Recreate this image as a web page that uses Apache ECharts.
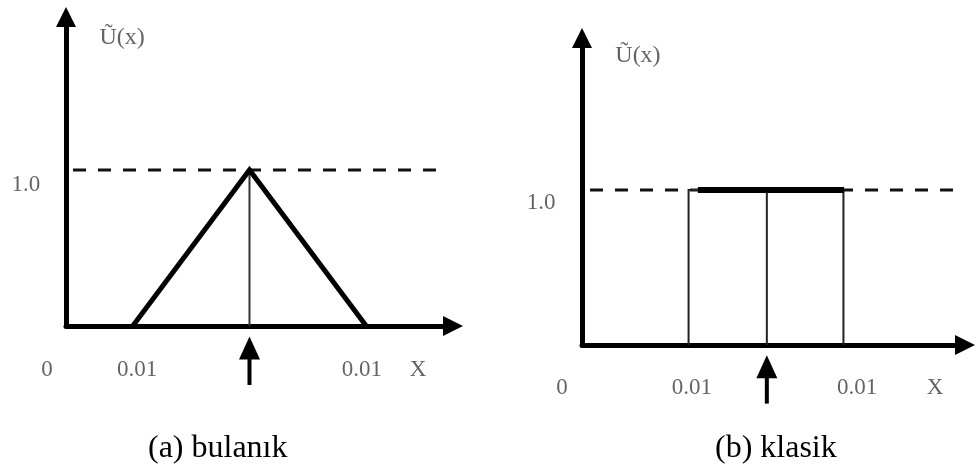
<!DOCTYPE html>
<html>
<head>
<meta charset="utf-8">
<script src="https://cdn.jsdelivr.net/npm/echarts@6/dist/echarts.min.js"></script>
<style>
html,body{margin:0;padding:0;background:#fff;}
#chart{width:977px;height:469px;}
</style>
</head>
<body>
<div id="chart"></div>
<script>
// ---------------- data ----------------
// (a) bulanık : triangular membership function
const fuzzyX = [2.0, 5.5, 9.0];
const fuzzyU = [0, 1, 0];
// (b) klasik : crisp interval (left edge, centre, right edge)
const crispX = [3.2, 5.55, 7.85];
const crispTop = [3.48, 7.87];          // thick top segment of the interval
const levelU = 1.0;                      // membership level 1.0
// dashed reference line at U = 1.0 (x range)
const dashA = [0.21, 11.36];
const dashB = [0.24, 11.44];
// labels under the x axis and on the y axis
const xTickText = ['0', '0.01', '0.01', 'X'];
const xTickPosA = [-0.57, 2.13, 8.87, 10.55];
const xTickPosB = [-0.6, 3.3, 8.26, 10.6];
const yTickText = ['1.0'];
const axisTitle = 'Ũ(x)';
const captions = ['(a) bulanık', '(b) klasik'];
// arrow under the axis pointing at the centre value (tail, head in U units)
const arrowU = [-0.378, -0.141];

// ---------------- layout / style ----------------
const FONT = '"Liberation Serif", "Times New Roman", serif';
const LAB = {
  a: {tickY: -0.282, yLabX: -1.2, yLabY: 0.904, titleX: 1.68, titleY: 1.846},
  b: {tickY: -0.277, yLabX: -1.23, yLabY: 0.916, titleX: 1.68, titleY: 1.865}
};

function axisLine(isY) {
  return {
    show: true, onZero: false,
    symbol: ['none', 'triangle'],
    symbolSize: [20, 20],
    symbolOffset: [0, isY ? -3 : 0],
    lineStyle: {color: '#000', width: 5}
  };
}
function xAx(i, max) {
  return {type: 'value', gridIndex: i, min: 0, max: max,
    axisLine: axisLine(false), axisTick: {show: false}, axisLabel: {show: false}, splitLine: {show: false}};
}
function yAx(i) {
  return {type: 'value', gridIndex: i, min: 0, max: 2,
    axisLine: axisLine(true), axisTick: {show: false}, axisLabel: {show: false}, splitLine: {show: false}};
}
function seg(i, pts, width, color, extra) {
  return Object.assign({
    type: 'line', xAxisIndex: i, yAxisIndex: i, data: pts, symbol: 'none',
    silent: true, animation: false, clip: false,
    lineStyle: {width: width, color: color, cap: 'butt', join: 'miter'}
  }, extra || {});
}
function arrow(i, x) {
  return {
    type: 'line', xAxisIndex: i, yAxisIndex: i, silent: true, animation: false, clip: false,
    showSymbol: true,
    data: [
      {value: [x, arrowU[0]], symbol: 'none'},
      {value: [x, arrowU[1]], symbol: 'triangle', symbolSize: [21, 23]}
    ],
    itemStyle: {color: '#000', borderWidth: 0},
    lineStyle: {width: 4, color: '#000'}
  };
}
function labels(i, tickPos, L) {
  const data = tickPos.map((x, k) => ({value: [x, L.tickY], name: xTickText[k]}));
  data.push({value: [L.yLabX, L.yLabY], name: yTickText[0]});
  data.push({value: [L.titleX, L.titleY], name: axisTitle, label: {fontSize: 24}});
  return {
    type: 'scatter', xAxisIndex: i, yAxisIndex: i, silent: true, animation: false, clip: false,
    symbolSize: 1, itemStyle: {color: 'rgba(0,0,0,0)'},
    data: data,
    label: {show: true, position: 'inside', formatter: '{b}', color: '#3c3c3c',
      fontFamily: FONT, fontSize: 23, align: 'center', verticalAlign: 'middle'}
  };
}

const series = [];
// panel (a)
series.push(seg(0, [[dashA[0], levelU], [dashA[1], levelU]], 3, '#111', {lineStyle: {width: 3, color: '#111', type: [13, 12]}}));
series.push(seg(0, [[fuzzyX[1], 0], [fuzzyX[1], levelU]], 2, '#333'));
series.push(seg(0, fuzzyX.map((x, k) => [x, fuzzyU[k]]), 5, '#000'));
series.push(arrow(0, fuzzyX[1]));
series.push(labels(0, xTickPosA, LAB.a));
// panel (b)
series.push(seg(1, [[dashB[0], levelU], [dashB[1], levelU]], 3, '#111', {lineStyle: {width: 3, color: '#111', type: [13, 12]}}));
series.push(seg(1, [[crispX[0], 0], [crispX[0], levelU], [crispX[2], levelU], [crispX[2], 0]], 2, '#222'));
series.push(seg(1, [[crispX[1], 0], [crispX[1], levelU]], 2, '#222'));
series.push(seg(1, [[crispTop[0], levelU], [crispTop[1], levelU]], 6, '#000'));
series.push(arrow(1, crispX[1]));
series.push(labels(1, xTickPosB, LAB.b));

const chart = echarts.init(document.getElementById('chart'), null, {renderer: 'canvas'});
chart.setOption({
  backgroundColor: '#fff',
  animation: false,
  title: [
    {text: captions[0], left: 148, top: 433, padding: 0,
      textStyle: {fontFamily: FONT, fontSize: 32, fontWeight: 'normal', color: '#000'}},
    {text: captions[1], left: 715, top: 433, padding: 0,
      textStyle: {fontFamily: FONT, fontSize: 32, fontWeight: 'normal', color: '#000'}}
  ],
  grid: [
    {left: 66, top: 14, width: 387, height: 312, outerBoundsMode: 'none', containLabel: false},
    {left: 582, top: 35, width: 383, height: 310, outerBoundsMode: 'none', containLabel: false}
  ],
  xAxis: [xAx(0, 11.6), xAx(1, 11.5)],
  yAxis: [yAx(0), yAx(1)],
  series: series
});
</script>
</body>
</html>
